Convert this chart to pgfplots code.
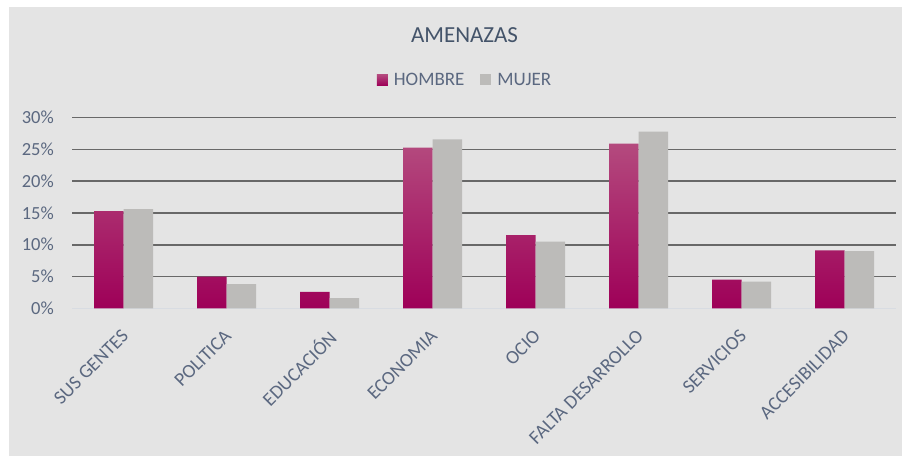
\documentclass[border=0pt]{standalone}
\usepackage{pgfplots}
\pgfplotsset{compat=1.18}
\usepackage{fontspec}
\setmainfont{Carlito}
\definecolor{bg}{HTML}{E4E4E4}
\definecolor{gridc}{HTML}{686868}
\definecolor{zeroc}{HTML}{D8DCE2}
\definecolor{labc}{HTML}{5B6880}
\definecolor{titc}{HTML}{44546A}
\definecolor{hTop}{HTML}{B44A7E}
\definecolor{hMid}{HTML}{AE0063}
\definecolor{hBot}{HTML}{9E0058}
\definecolor{hLeg}{HTML}{A8005E}
\definecolor{muj}{HTML}{BCBBB9}
\begin{document}
\begin{tikzpicture}
\path[use as bounding box] (0,0) rectangle (902bp,456bp);
\fill[white] (0,0) rectangle (902bp,456bp);
\fill[bg] (9bp,0) rectangle (902bp,449bp);
\node[font=\fontsize{23bp}{26bp}\selectfont, text=titc] at (464.5bp,420.5bp) {AMENAZAS};
\begin{axis}[
  at={(72bp,147.7bp)}, anchor=south west,
  scale only axis, width=824bp, height=190.6bp,
  xmin=-0.5, xmax=7.5, ymin=0, ymax=30,
  ybar=0pt, bar width=29.5bp,
  axis line style={draw=none},
  major tick length=0pt,
  xtick={0,...,7},
  xticklabels={SUS GENTES,POLITICA,EDUCACIÓN,ECONOMIA,OCIO,FALTA DESARROLLO,SERVICIOS,ACCESIBILIDAD},
  xticklabel style={xshift=-3bp, rotate=45, anchor=north east, inner sep=0pt, text=labc,
    font=\fontsize{19.3bp}{21bp}\selectfont},
  xticklabel shift=20bp,
  ytick={5,10,...,30},
  extra y ticks={0},
  extra y tick style={grid style={color=zeroc, line width=1.3bp}},
  yticklabel={\pgfmathprintnumber{\tick}\%},
  yticklabel style={anchor=east, inner sep=0pt, text=labc, xshift=-18bp,
    font=\fontsize{18.5bp}{20bp}\selectfont, /pgf/number format/assume math mode=true},
  ymajorgrids,
  grid style={color=gridc, line width=1.5bp},
  legend style={at={(axis description cs:0.477,1.198)}, anchor=center,
    legend columns=2, draw=none, fill=none, text=labc,
    font=\fontsize{19bp}{21bp}\selectfont,
    /tikz/every even column/.append style={column sep=14bp}},
  legend image code/.code={\fill[#1] (0bp,-5.5bp) rectangle (11bp,5.5bp); \path (15bp,0bp);},
]
\addplot[draw=none, top color=hTop, middle color=hMid, bottom color=hBot,
  legend image code/.code={\fill[hLeg] (0bp,-5.5bp) rectangle (11bp,5.5bp); \path (15bp,0bp);}]
  coordinates {(0,15.3) (1,5.0) (2,2.6) (3,25.3) (4,11.5) (5,25.9) (6,4.5) (7,9.1)};
\addlegendentry{HOMBRE}
\addplot[draw=none, fill=muj]
  coordinates {(0,15.6) (1,3.8) (2,1.6) (3,26.6) (4,10.5) (5,27.8) (6,4.2) (7,9.0)};
\addlegendentry{MUJER}
\end{axis}
\end{tikzpicture}
\end{document}
